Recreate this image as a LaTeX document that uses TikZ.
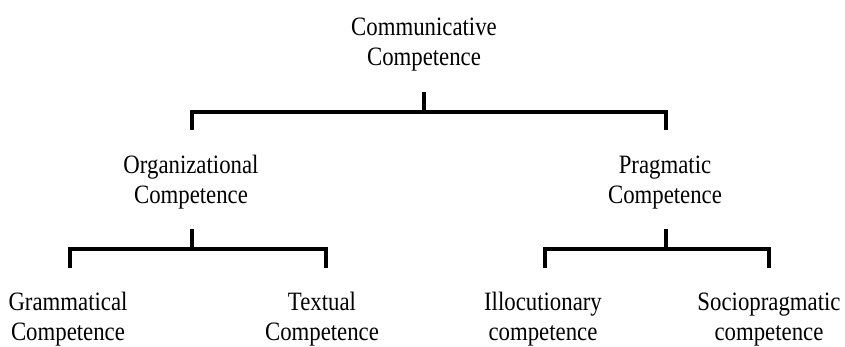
\documentclass[tikz,border=0pt]{standalone}
\usepackage{fontspec}
\setmainfont{Liberation Serif}[FakeStretch=0.86]
\begin{document}
\begin{tikzpicture}[x=1pt,y=1pt,
  term/.style={align=center, anchor=base, inner sep=0pt,
    font=\fontsize{26.5}{30}\selectfont},
  bar/.style={line width=4pt, line join=miter}]
\useasboundingbox (0,0) rectangle (845,346);

% labels (anchored at the baseline of their second line)
\node[term] (cc) at (424,280) {Communicative\\Competence};
\node[term] (oc) at (191,143) {Organizational\\Competence};
\node[term] (pc) at (665,143) {Pragmatic\\Competence};
\node[term] (gc) at (68,6)  {Grammatical\\Competence};
\node[term] (tc) at (322,6) {Textual\\Competence};
\node[term] (ic) at (543,6) {Illocutionary\\competence};
\node[term] (sc) at (769,6) {Sociopragmatic\\competence};

% bracket points
\coordinate (cc-stem) at (424,254);
\coordinate (cc-bar)  at (424,234);
\coordinate (oc-top)  at (192,216);
\coordinate (pc-top)  at (666,216);
\coordinate (oc-stem) at (192,117);
\coordinate (oc-bar)  at (192,97);
\coordinate (gc-top)  at (70,78);
\coordinate (tc-top)  at (326,78);
\coordinate (pc-stem) at (666,117);
\coordinate (pc-bar)  at (666,97);
\coordinate (ic-top)  at (545,78);
\coordinate (sc-top)  at (769,78);

% brackets
\draw[bar] (cc-stem) -- (cc-bar);
\draw[bar] (oc-top) |- (cc-bar) -| (pc-top);
\draw[bar] (oc-stem) -- (oc-bar);
\draw[bar] (gc-top) |- (oc-bar) -| (tc-top);
\draw[bar] (pc-stem) -- (pc-bar);
\draw[bar] (ic-top) |- (pc-bar) -| (sc-top);
\end{tikzpicture}
\end{document}
